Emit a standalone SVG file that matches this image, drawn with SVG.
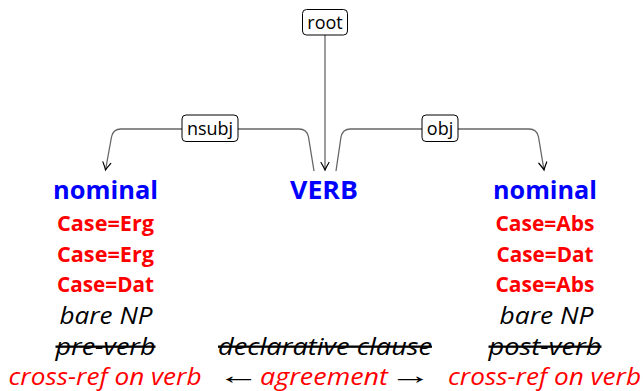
<svg xmlns="http://www.w3.org/2000/svg" width="644" height="391" viewBox="0 0 644 391">
<style>
text{font-family:"Open Sans","Noto Sans","DejaVu Sans",sans-serif;text-anchor:middle}
.lab{font-size:18px;fill:#000}
.box{fill:#fff;stroke:#000;stroke-width:1}
.head{font-size:25px;font-weight:bold;fill:#0000ff}
.case{font-size:21px;font-weight:bold;fill:#ff0000}
.it{font-size:23px;font-style:italic;fill:#000}
.arw{font-size:25px;fill:#000;font-family:"Liberation Sans","DejaVu Sans",sans-serif}
.red{fill:#ff0000}
.strike{text-decoration:line-through}
.edge{fill:none;stroke:#666;stroke-width:1.3}
</style>
<defs>
<marker id="arr" markerUnits="userSpaceOnUse" markerWidth="12" markerHeight="12" refX="0" refY="0" viewBox="-10 -6 12 12" orient="auto" overflow="visible">
<path d="M-7.5,-4 Q-2.5,-1 0,0 Q-2.5,1 -7.5,4" fill="none" stroke="#000" stroke-width="1.2" stroke-linecap="round"/>
</marker>
</defs>
<g id="connectors">
<path class="edge" d="M325,35 L325,170" marker-end="url(#arr)"/>
<path class="edge" d="M314,171 L308.5,137 Q307,129 299,129 L121,129 Q113,129 111.5,137 L105.5,170" marker-end="url(#arr)"/>
<path class="edge" d="M336,171 L341,137 Q342.5,129 350.5,129 L529,129 Q537,129 538.5,137 L544,170" marker-end="url(#arr)"/>
</g>
<g id="root">
<rect class="box" x="302.5" y="9.5" width="45" height="25.5" rx="4"/>
<text class="lab" x="325" y="28.5">root</text>
</g>
<g id="nsubj">
<rect class="box" x="182" y="115" width="56" height="26.5" rx="4"/>
<text class="lab" x="210" y="134.5">nsubj</text>
</g>
<g id="obj">
<rect class="box" x="422" y="115" width="36" height="26.5" rx="4"/>
<text class="lab" x="440" y="134.5">obj</text>
</g>
<g id="verb">
<text class="head" x="324" y="199" textLength="68" lengthAdjust="spacingAndGlyphs">VERB</text>
<text class="it strike" x="325" y="355" textLength="214" lengthAdjust="spacingAndGlyphs">declarative clause</text>
<text class="arw" transform="translate(238.5,384) scale(1.7,1)">←</text>
<text class="it red" x="324" y="385" textLength="128" lengthAdjust="spacingAndGlyphs">agreement</text>
<text class="arw" transform="translate(410.5,384) scale(1.7,1)">→</text>
</g>
<g id="nominal-left">
<text class="head" x="105.5" y="199" textLength="105" lengthAdjust="spacingAndGlyphs">nominal</text>
<text class="case" x="105.5" y="231" textLength="97" lengthAdjust="spacingAndGlyphs">Case=Erg</text>
<text class="case" x="105.5" y="262" textLength="97" lengthAdjust="spacingAndGlyphs">Case=Erg</text>
<text class="case" x="105.5" y="292" textLength="97" lengthAdjust="spacingAndGlyphs">Case=Dat</text>
<text class="it" x="106" y="324" textLength="93" lengthAdjust="spacingAndGlyphs">bare NP</text>
<text class="it strike" x="105.5" y="355" textLength="100" lengthAdjust="spacingAndGlyphs">pre-verb</text>
<text class="it red" x="105" y="385" textLength="193" lengthAdjust="spacingAndGlyphs">cross-ref on verb</text>
</g>
<g id="nominal-right">
<text class="head" x="545" y="199" textLength="104" lengthAdjust="spacingAndGlyphs">nominal</text>
<text class="case" x="545" y="231" textLength="99" lengthAdjust="spacingAndGlyphs">Case=Abs</text>
<text class="case" x="545" y="262" textLength="97" lengthAdjust="spacingAndGlyphs">Case=Dat</text>
<text class="case" x="545" y="292" textLength="99" lengthAdjust="spacingAndGlyphs">Case=Abs</text>
<text class="it" x="546.5" y="324" textLength="94" lengthAdjust="spacingAndGlyphs">bare NP</text>
<text class="it strike" x="545" y="355" textLength="113" lengthAdjust="spacingAndGlyphs">post-verb</text>
<text class="it red" x="544.5" y="385" textLength="193" lengthAdjust="spacingAndGlyphs">cross-ref on verb</text>
</g>
</svg>
